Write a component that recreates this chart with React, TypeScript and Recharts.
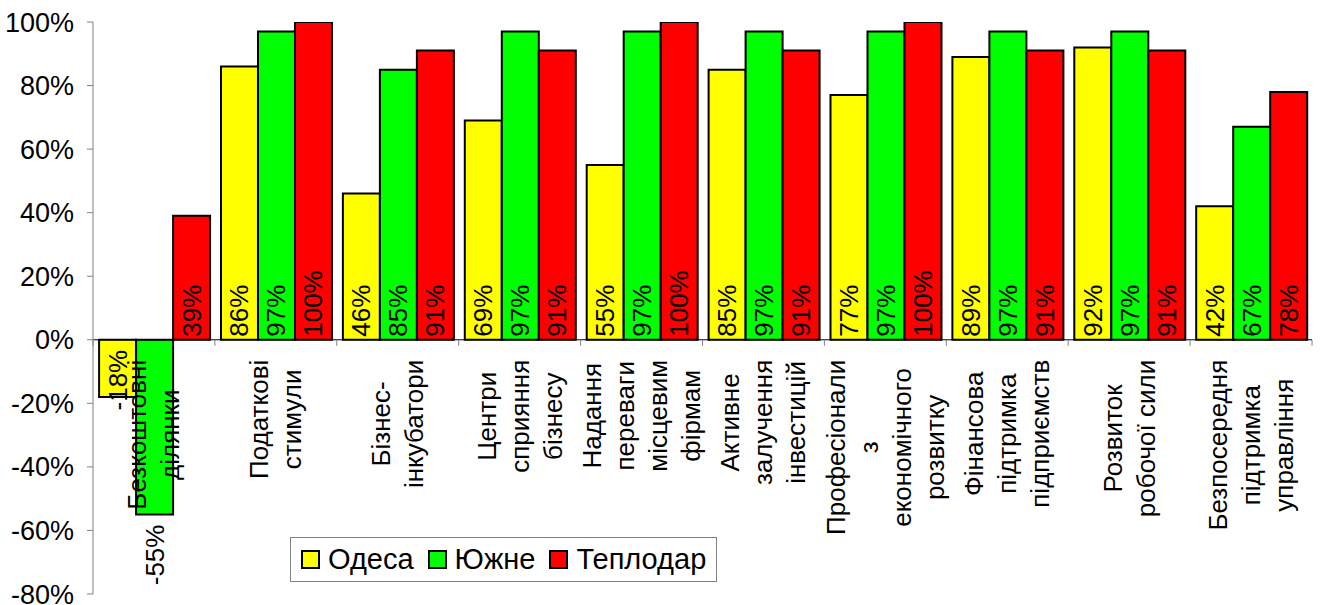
import React from 'react';
import {
  BarChart,
  Bar,
  XAxis,
  YAxis,
  ReferenceLine,
  LabelList,
} from 'recharts';

const CATEGORIES = [
  ['Безкоштовні', 'ділянки'],
  ['Податкові', 'стимули'],
  ['Бізнес-', 'інкубатори'],
  ['Центри', 'сприяння', 'бізнесу'],
  ['Надання', 'переваги', 'місцевим', 'фірмам'],
  ['Активне', 'залучення', 'інвестицій'],
  ['Професіонали', 'з', 'економічного', 'розвитку'],
  ['Фінансова', 'підтримка', 'підприємств'],
  ['Розвиток', 'робочої сили'],
  ['Безпосередня', 'підтримка', 'управління'],
];

const ODESA = [-18, 86, 46, 69, 55, 85, 77, 89, 92, 42];
const YUZHNE = [-55, 97, 85, 97, 97, 97, 97, 97, 97, 67];
const TEPLODAR = [39, 100, 91, 91, 100, 91, 100, 91, 91, 78];

const Y_TICKS = [-80, -60, -40, -20, 0, 20, 40, 60, 80, 100];

const SERIES = [
  { key: 'odesa', name: 'Одеса', color: '#FFFF00' },
  { key: 'yuzhne', name: 'Южне', color: '#00FF00' },
  { key: 'teplodar', name: 'Теплодар', color: '#FF0000' },
];

const data = CATEGORIES.map((lines, i) => ({
  name: lines.join(' '),
  odesa: ODESA[i],
  yuzhne: YUZHNE[i],
  teplodar: TEPLODAR[i],
}));

// layout
const W = 1320;
const H = 605;
const FONT = '"Liberation Sans", Arial, sans-serif';
const FS = 26;
const AXIS_FS = 27;
const LEGEND_FS = 29;
const MARGIN = { top: 22, right: 8, bottom: 10, left: 0 };
const X_AXIS_H = 1;
const Y_AXIS_W = 93;
const PLOT_TOP = MARGIN.top;
const PLOT_BOTTOM = H - MARGIN.bottom - X_AXIS_H;
const PLOT_LEFT = MARGIN.left + Y_AXIS_W;
const PLOT_RIGHT = W - MARGIN.right;
const Y_MIN = -80;
const Y_MAX = 100;
const ZERO_Y = PLOT_TOP + ((PLOT_BOTTOM - PLOT_TOP) * Y_MAX) / (Y_MAX - Y_MIN);
const BAND = (PLOT_RIGHT - PLOT_LEFT) / CATEGORIES.length;
const LINE_H = 33;

let ctx: CanvasRenderingContext2D | null = null;
const measure = (s: string) => {
  if (!ctx && typeof document !== 'undefined') {
    ctx = document.createElement('canvas').getContext('2d');
  }
  if (ctx) {
    ctx.font = `${FS}px ${FONT}`;
    return ctx.measureText(s).width;
  }
  return s.length * FS * 0.53;
};

const CategoryTick = (props: any) => {
  const { x, payload } = props;
  const idx = payload.index;
  const lines = CATEGORIES[idx] || [];
  const blockLen = Math.max(...lines.map(measure));
  const top = ZERO_Y + 20;
  const n = lines.length;
  return (
    <g>
      <line x1={x - BAND / 2} x2={x - BAND / 2} y1={ZERO_Y} y2={ZERO_Y + 6} stroke="#808080" />
      {idx === CATEGORIES.length - 1 && (
        <line x1={x + BAND / 2} x2={x + BAND / 2} y1={ZERO_Y} y2={ZERO_Y + 6} stroke="#808080" />
      )}
      <g transform={`translate(${x}, ${top}) rotate(-90)`}>
        {lines.map((line, i) => (
          <text
            key={i}
            x={-blockLen / 2}
            y={(i - (n - 1) / 2) * LINE_H}
            textAnchor="middle"
            dominantBaseline="central"
            fontSize={FS}
            fontFamily={FONT}
            fill="#000"
          >
            {line}
          </text>
        ))}
      </g>
    </g>
  );
};

const ValueLabel = (props: any) => {
  const { x, y, width, height, value } = props;
  const top = Math.min(y, y + height);
  const bottom = Math.max(y, y + height);
  const cx = x + width / 2;
  let ay: number;
  let anchor: 'start' | 'end';
  if (value >= 0) {
    ay = bottom - 3;
    anchor = 'start';
  } else if (value > -30) {
    ay = top + 10;
    anchor = 'end';
  } else {
    ay = bottom + 10;
    anchor = 'end';
  }
  return (
    <text
      transform={`translate(${cx}, ${ay}) rotate(-90)`}
      textAnchor={anchor}
      dominantBaseline="central"
      fontSize={FS}
      fontFamily={FONT}
      fill="#000"
    >
      {`${value}%`}
    </text>
  );
};

const LegendBox = () => (
  <div
    style={{
      position: 'absolute',
      left: 290,
      top: 537,
      display: 'flex',
      alignItems: 'center',
      border: '1px solid #808080',
      background: '#fff',
      height: 43,
      padding: '0 10px',
      fontFamily: FONT,
      fontSize: LEGEND_FS,
      color: '#000',
      whiteSpace: 'nowrap',
    }}
  >
    {SERIES.map((s, i) => (
      <div key={s.key} style={{ display: 'flex', alignItems: 'center', marginLeft: i ? 14 : 0 }}>
        <span
          style={{
            display: 'inline-block',
            width: 15,
            height: 15,
            background: s.color,
            border: '2px solid #000',
            marginRight: 8,
          }}
        />
        <span>{s.name}</span>
      </div>
    ))}
  </div>
);

export default function App() {
  return (
    <div style={{ position: 'relative', width: W, height: H, background: '#fff' }}>
      <style>{'body{margin:0}'}</style>
      <BarChart
        width={W}
        height={H}
        data={data}
        margin={MARGIN}
        barCategoryGap="5%"
        barGap={0}
      >
        <YAxis
          width={Y_AXIS_W}
          domain={[Y_MIN, Y_MAX]}
          ticks={Y_TICKS}
          interval={0}
          allowDataOverflow
          tickFormatter={(v: number) => `${v}%`}
          stroke="#808080"
          tickSize={6}
          tickMargin={13}
          tick={{ fill: '#000', fontSize: AXIS_FS, fontFamily: FONT }}
        />
        {SERIES.map((s) => (
          <Bar
            key={s.key}
            dataKey={s.key}
            name={s.name}
            fill={s.color}
            stroke="#000"
            strokeWidth={2}
            isAnimationActive={false}
          >
            <LabelList dataKey={s.key} content={ValueLabel} />
          </Bar>
        ))}
        <ReferenceLine y={0} stroke="#000" strokeWidth={1} />
        <XAxis
          dataKey="name"
          height={X_AXIS_H}
          axisLine={false}
          tickLine={false}
          interval={0}
          tick={CategoryTick}
        />
      </BarChart>
      <LegendBox />
    </div>
  );
}
